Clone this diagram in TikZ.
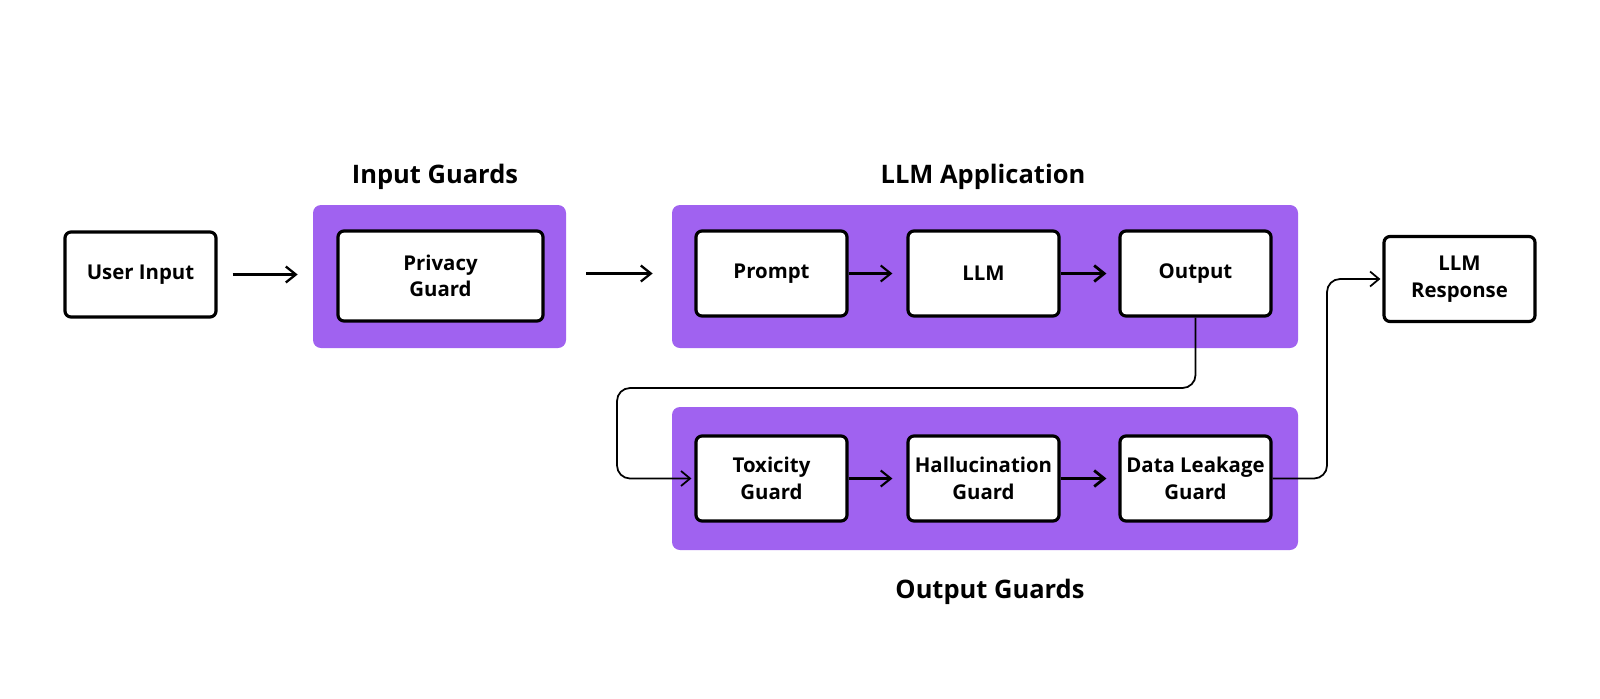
\documentclass[tikz,border=0pt]{standalone}
\usepackage{fontspec}
\setmainfont{Open Sans}
\usepackage{xcolor}
\usetikzlibrary{arrows.meta}
\definecolor{guardpurple}{HTML}{A062F0}

\tikzset{
  group/.style={fill=guardpurple, rounded corners=1.6mm, minimum height=28.6mm, inner sep=0pt},
  block/.style={draw, line width=1.8pt, fill=white, rounded corners=1.2mm, minimum width=30.2mm,
    minimum height=17mm, align=center, inner sep=0pt, font=\bfseries\fontsize{11.6}{15}\selectfont},
  title/.style={font=\bfseries\fontsize{14.5}{17}\selectfont},
  flow/.style={-{Straight Barb[length=2mm,width=3.2mm]}, line width=1.3pt},
  link/.style={-{Straight Barb[length=1.8mm,width=3mm]}, line width=1pt, rounded corners=2.6mm},
}

\begin{document}
\begin{tikzpicture}[x=0.2mm, y=-0.2mm]
\useasboundingbox (0,0) rectangle (1600,698);
% purple groups
\node[group, minimum width=50.6mm] (inguard) at (439.5,276.5) {};
\node[group, minimum width=125.2mm] (appgroup) at (985,276.5) {};
\node[group, minimum width=125.2mm] (outguard) at (985,478.5) {};
\node[title] (intitle) at (435,177) {Input Guards};
\node[title] (apptitle) at (983,177) {LLM Application};
\node[title] (outtitle) at (990,592) {Output Guards};
% blocks
\node[block] (user) at (140.5,274.5) {User Input};
\node[block, minimum width=41mm, minimum height=18mm] (privacy) at (440.5,276) {Privacy\\Guard};
\node[block] (prompt) at (771.5,273.5) {Prompt};
\node[block] (llm) at (983.5,273.5) {LLM};
\node[block] (output) at (1195.5,273.5) {Output};
\node[block] (toxicity) at (771.5,478.5) {Toxicity\\Guard};
\node[block] (halluc) at (983.5,478.5) {Hallucination\\Guard};
\node[block] (leakage) at (1195.5,478.5) {Data Leakage\\Guard};
\node[block] (response) at (1459.5,279) {LLM\\Response};
% arrows
\draw[flow, shorten <=3mm, shorten >=3mm] (user.east) -- (user.east -| inguard.west);
\draw[flow, shorten <=4mm, shorten >=3.8mm] (inguard.east |- prompt) -- (appgroup.west |- prompt);
\draw[flow, line width=1.2pt, shorten >=2.8mm] (prompt) -- (llm);
\draw[flow, line width=1.6pt, shorten >=2.4mm] (llm) -- (output);
\draw[flow, line width=1.2pt, shorten >=2.8mm] (toxicity) -- (halluc);
\draw[flow, line width=1.6pt, shorten >=2.4mm] (halluc) -- (leakage);
% loop connectors
\coordinate (loopleft) at (617,388);
\draw[link, shorten >=0.6mm] (output.south) |- (loopleft) |- (toxicity.west);
\coordinate (riseright) at (1327,380);
\draw[link, shorten >=0.4mm] (leakage.east) -| (riseright) |- (response.west);
\end{tikzpicture}
\end{document}
